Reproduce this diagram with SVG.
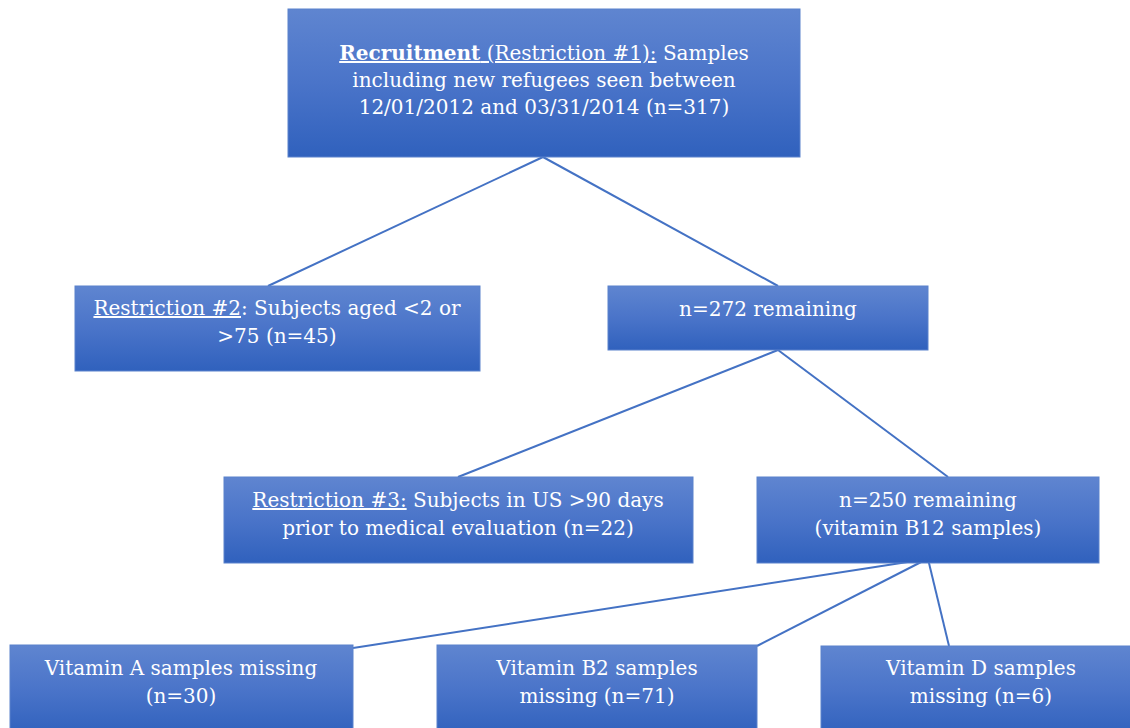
<svg xmlns="http://www.w3.org/2000/svg" width="1130" height="728" viewBox="0 0 1130 728">
<defs>
<linearGradient id="g" x1="0" y1="0" x2="0" y2="1">
<stop offset="0" stop-color="#5f85d0"/>
<stop offset="0.5" stop-color="#4a74c9"/>
<stop offset="1" stop-color="#3061bd"/>
</linearGradient>
</defs>
<style>
.box{fill:url(#g);stroke:#5a82cc;stroke-width:1}
.t{font-family:"DejaVu Serif","Liberation Serif",serif;font-size:20px;fill:#ffffff;text-anchor:middle}
.u{text-decoration:underline}
.b{font-weight:bold}
.c{stroke:#4472c4;stroke-width:2;fill:none}
</style>
<rect width="1130" height="728" fill="#ffffff"/>
<g id="connectors">
<line class="c" x1="543" y1="157" x2="268" y2="286"/>
<line class="c" x1="543" y1="157" x2="778" y2="286"/>
<line class="c" x1="778" y1="350" x2="458" y2="477"/>
<line class="c" x1="778" y1="350" x2="948" y2="477"/>
<line class="c" x1="927" y1="559" x2="353" y2="648"/>
<line class="c" x1="927" y1="559" x2="757" y2="646"/>
<line class="c" x1="928" y1="559" x2="949" y2="646"/>
</g>
<g id="recruitment">
<rect class="box" x="288" y="9" width="512" height="148"/>
<text class="t" x="544" y="60"><tspan class="u"><tspan class="b">Recruitment</tspan> (Restriction #1):</tspan> Samples</text>
<text class="t" x="544" y="87">including new refugees seen between</text>
<text class="t" x="544" y="114">12/01/2012 and 03/31/2014 (n=317)</text>
</g>
<g id="restriction2">
<rect class="box" x="75" y="286" width="405" height="85"/>
<text class="t" x="277" y="315"><tspan class="u">Restriction #2</tspan>: Subjects aged &lt;2 or</text>
<text class="t" x="277" y="343">&gt;75 (n=45)</text>
</g>
<g id="remaining272">
<rect class="box" x="608" y="286" width="320" height="64"/>
<text class="t" x="768" y="316">n=272 remaining</text>
</g>
<g id="restriction3">
<rect class="box" x="224" y="477" width="469" height="86"/>
<text class="t" x="458" y="507"><tspan class="u">Restriction #3:</tspan> Subjects in US &gt;90 days</text>
<text class="t" x="458" y="535">prior to medical evaluation (n=22)</text>
</g>
<g id="remaining250">
<rect class="box" x="757" y="477" width="342" height="86"/>
<text class="t" x="928" y="507">n=250 remaining</text>
<text class="t" x="928" y="535">(vitamin B12 samples)</text>
</g>
<g id="vitaminA">
<rect class="box" x="10" y="645" width="343" height="90"/>
<text class="t" x="181" y="675">Vitamin A samples missing</text>
<text class="t" x="181" y="703">(n=30)</text>
</g>
<g id="vitaminB2">
<rect class="box" x="437" y="645" width="320" height="90"/>
<text class="t" x="597" y="675">Vitamin B2 samples</text>
<text class="t" x="597" y="703">missing (n=71)</text>
</g>
<g id="vitaminD">
<rect class="box" x="821" y="646" width="320" height="90"/>
<text class="t" x="981" y="675">Vitamin D samples</text>
<text class="t" x="981" y="703">missing (n=6)</text>
</g>
</svg>
